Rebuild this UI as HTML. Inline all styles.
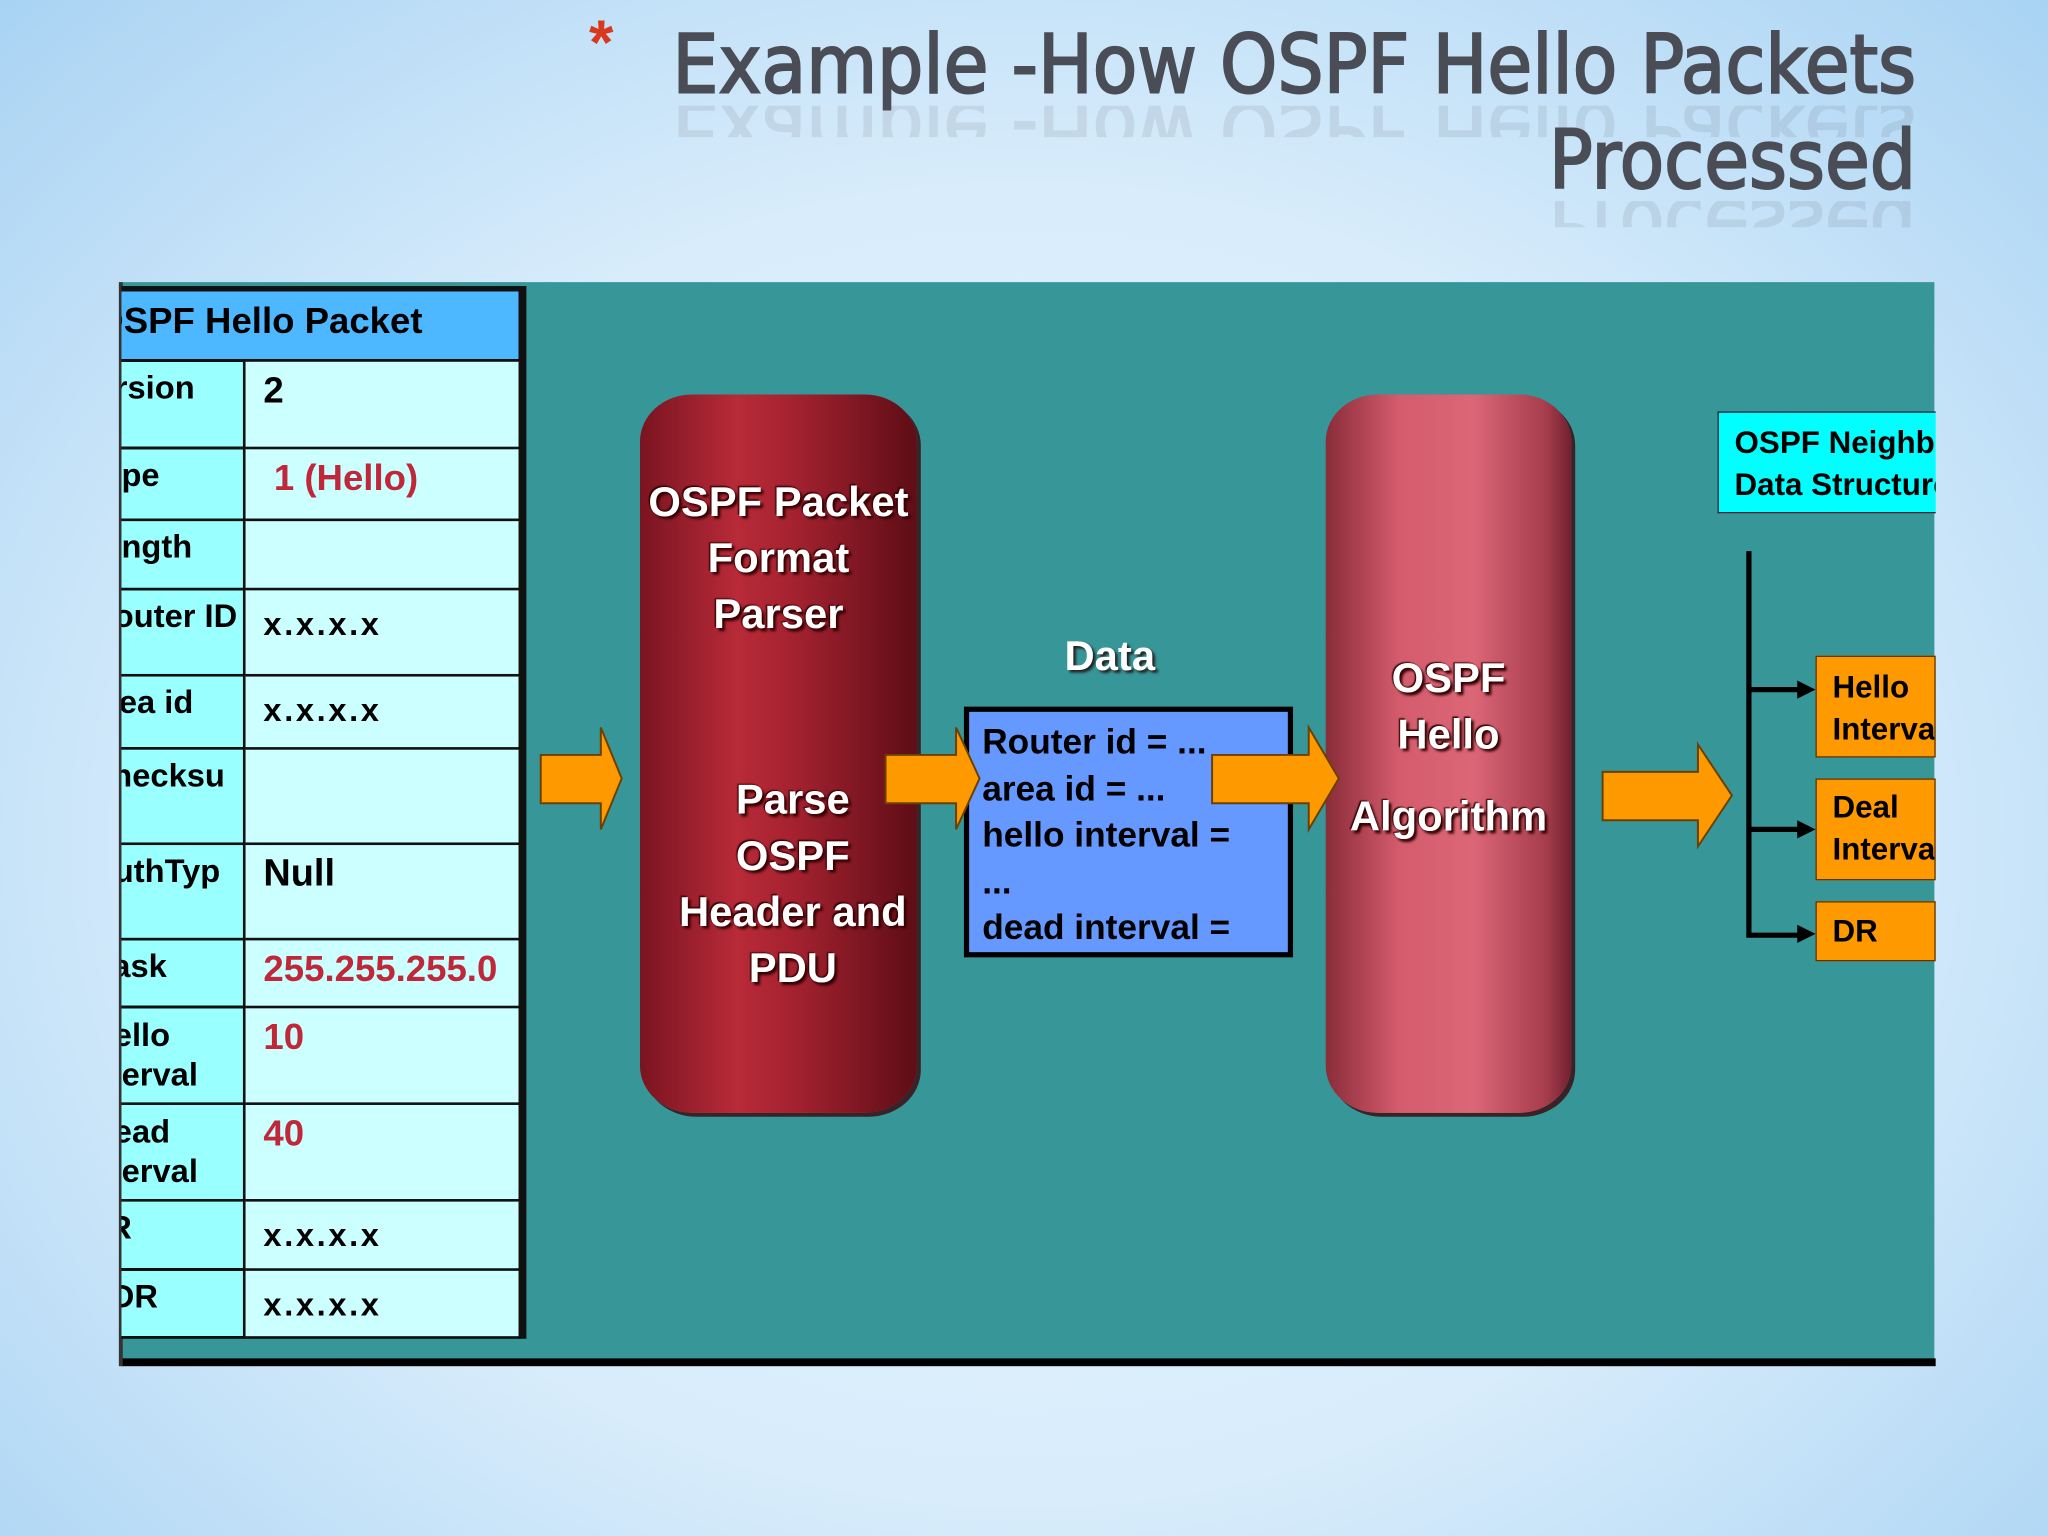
<!DOCTYPE html>
<html><head><meta charset="utf-8"><style>
html,body{margin:0;padding:0;width:2048px;height:1536px;overflow:hidden}
body{background:radial-gradient(ellipse at 50% 55%,#eaf6ff 0%,#d8ecfb 55%,#a9d3f3 100%)}
#w{position:absolute;left:0;top:0;width:1568px;height:1176px;transform:scale(1.30612);transform-origin:0 0;font-family:"Liberation Sans",Arial,sans-serif}
.a{position:absolute}
.t{font-family:"DejaVu Sans Condensed","DejaVu Sans",sans-serif;font-weight:normal;color:#4a4d55;font-size:62px;line-height:1;text-align:right;right:101px;white-space:nowrap;-webkit-text-stroke:1.5px #4a4d55}
.r{transform:scaleY(-1);opacity:.11}
table{border-collapse:collapse}
td{border:2px solid #111;font-weight:bold;font-size:25px;vertical-align:top;padding:6px 0 0 0}
.l{background:#99ffff;width:96px;overflow:hidden;white-space:nowrap;padding-left:2px}
.v{background:#ccffff;width:200px;padding-left:14px}
.x{letter-spacing:2px}
.red{color:#c0283a}
.cyl{border-radius:40px/36px;color:#fff;font-weight:bold;font-size:32px;text-align:center;line-height:43px;text-shadow:2px 2px 2px #300,-1px -1px 1px #300;box-shadow:3px 3px 0 #3a2226}
.ob{background:#ff9900;border:1px solid #663300;font-weight:bold;font-size:24px;line-height:32px;padding-left:12px;box-sizing:border-box;overflow:hidden;white-space:nowrap}
</style></head><body><div id="w">
<div class="a" style="left:451px;top:6px;color:#d8391e;font-size:48px;font-weight:bold">*</div>
<div class="a t" style="top:19px">Example -How OSPF Hello Packets</div>
<div class="a t r" style="top:81px;height:24px;overflow:hidden"><div style="margin-top:-26px">Example -How OSPF Hello Packets</div></div>
<div class="a t" style="top:92px">Processed</div>
<div class="a t r" style="top:154px;height:20px;overflow:hidden"><div style="margin-top:-31px">Processed</div></div>

<div class="a" style="left:93px;top:216px;width:1388px;height:826px;background:#369698"></div>
<div class="a" style="left:93px;top:1040px;width:1389px;height:6px;background:#000"></div>
<div class="a" style="left:91px;top:216px;width:3px;height:830px;background:#333"></div>

<div class="a" style="left:93px;top:219px;width:310px;height:806px;overflow:hidden;background:#111">
<table style="position:absolute;left:-4px;top:2px;width:310px">
<tr><td colspan="2" style="background:#4db8ff;height:45px;font-size:28px;padding:7px 0 0 0;white-space:nowrap;overflow:hidden;text-indent:-18px">OSPF Hello Packet</td></tr>
<tr style="height:67px"><td class="l" style="text-indent:-5px">rsion</td><td class="v" style="font-size:28px">2</td></tr>
<tr style="height:55px"><td class="l">pe</td><td class="v red" style="font-size:28px;padding-left:22px">1 (Hello)</td></tr>
<tr style="height:53px"><td class="l">ngth</td><td class="v"></td></tr>
<tr style="height:66px"><td class="l" style="text-indent:-6px">outer ID</td><td class="v x" style="padding-top:12px">x.x.x.x</td></tr>
<tr style="height:56px"><td class="l" style="text-indent:-2px">ea id</td><td class="v x" style="padding-top:12px">x.x.x.x</td></tr>
<tr style="height:73px"><td class="l" style="text-indent:-7px">hecksu</td><td class="v"></td></tr>
<tr style="height:73px"><td class="l" style="text-indent:-6px">uthTyp</td><td class="v" style="font-size:29px">Null</td></tr>
<tr style="height:52px"><td class="l" style="text-indent:-7px">ask</td><td class="v red" style="font-size:28px">255.255.255.0</td></tr>
<tr style="height:74px"><td class="l" style="line-height:30px;text-indent:-6px">ello<br>erval</td><td class="v red" style="font-size:28px">10</td></tr>
<tr style="height:74px"><td class="l" style="line-height:30px;text-indent:-6px">ead<br>erval</td><td class="v red" style="font-size:28px">40</td></tr>
<tr style="height:53px"><td class="l" style="text-indent:-10px">R</td><td class="v x" style="padding-top:12px">x.x.x.x</td></tr>
<tr style="height:52px"><td class="l" style="text-indent:-8px">DR</td><td class="v x" style="padding-top:12px">x.x.x.x</td></tr>
</table></div>

<div class="a cyl" style="left:490px;top:302px;width:212px;height:550px;background:linear-gradient(90deg,#7a1420 0%,#b82a38 35%,#a52230 55%,#5e0d16 100%)">
<div style="margin-top:61px">OSPF Packet<br>Format<br>Parser</div>
<div style="margin-top:99px;padding-left:22px">Parse<br>OSPF<br>Header and<br>PDU</div></div>

<div class="a cyl" style="left:1015px;top:302px;width:188px;height:550px;background:linear-gradient(90deg,#8a2c3a 0%,#d45c6c 30%,#db6676 60%,#a53c4c 90%,#702030 100%)">
<div style="margin-top:196px">OSPF<br>Hello</div><div style="margin-top:20px">Algorithm</div></div>

<div class="a" style="left:815px;top:484px;color:#fff;font-weight:bold;font-size:32px;text-shadow:2px 2px 2px #222">Data</div>
<div class="a" style="left:738px;top:541px;width:252px;height:192px;box-sizing:border-box;background:#6699ff;border:4px solid #000;overflow:hidden;white-space:nowrap;font-weight:bold;font-size:27px;line-height:35.5px;padding:6px 0 0 10px;color:#000">Router id = ...<br>area id = ...<br>hello interval =<br>...<br>dead interval =</div>

<svg class="a" style="left:0;top:0" width="1568" height="1176">
<g fill="#ff9900" stroke="#6b4000" stroke-width="1.5">
<polygon points="414,578 460,578 460,557 476,596 460,635 460,615 414,615"/>
<polygon points="678,578 732,578 732,557 750,596 732,635 732,615 678,615"/>
<polygon points="928,578 1002,578 1002,557 1025,596 1002,635 1002,615 928,615"/>
<polygon points="1227,591 1300,591 1300,570 1326,609 1300,648 1300,628 1227,628"/>
</g>
<g stroke="#000" stroke-width="4" fill="none"><path d="M1339,422 V716 H1378"/><path d="M1339,528 H1378"/><path d="M1339,635 H1378"/></g>
<g fill="#000"><polygon points="1376,521 1390,528 1376,535"/><polygon points="1376,628 1390,635 1376,642"/><polygon points="1376,708 1390,715 1376,722"/></g>
</svg>

<div class="a" style="left:1315px;top:315px;width:167px;height:78px;box-sizing:border-box;background:#00ffff;border:1px solid #223;border-right:none;overflow:hidden;white-space:nowrap;font-weight:bold;font-size:24px;line-height:32px;padding:8px 0 0 12px">OSPF Neighbor<br>Data Structure</div>
<div class="a ob" style="left:1390px;top:502px;width:92px;height:78px;padding-top:8px">Hello<br>Interval</div>
<div class="a ob" style="left:1390px;top:596px;width:92px;height:78px;padding-top:6px">Deal<br>Interval</div>
<div class="a ob" style="left:1390px;top:690px;width:92px;height:46px;padding-top:7px">DR</div>
</div></body></html>
